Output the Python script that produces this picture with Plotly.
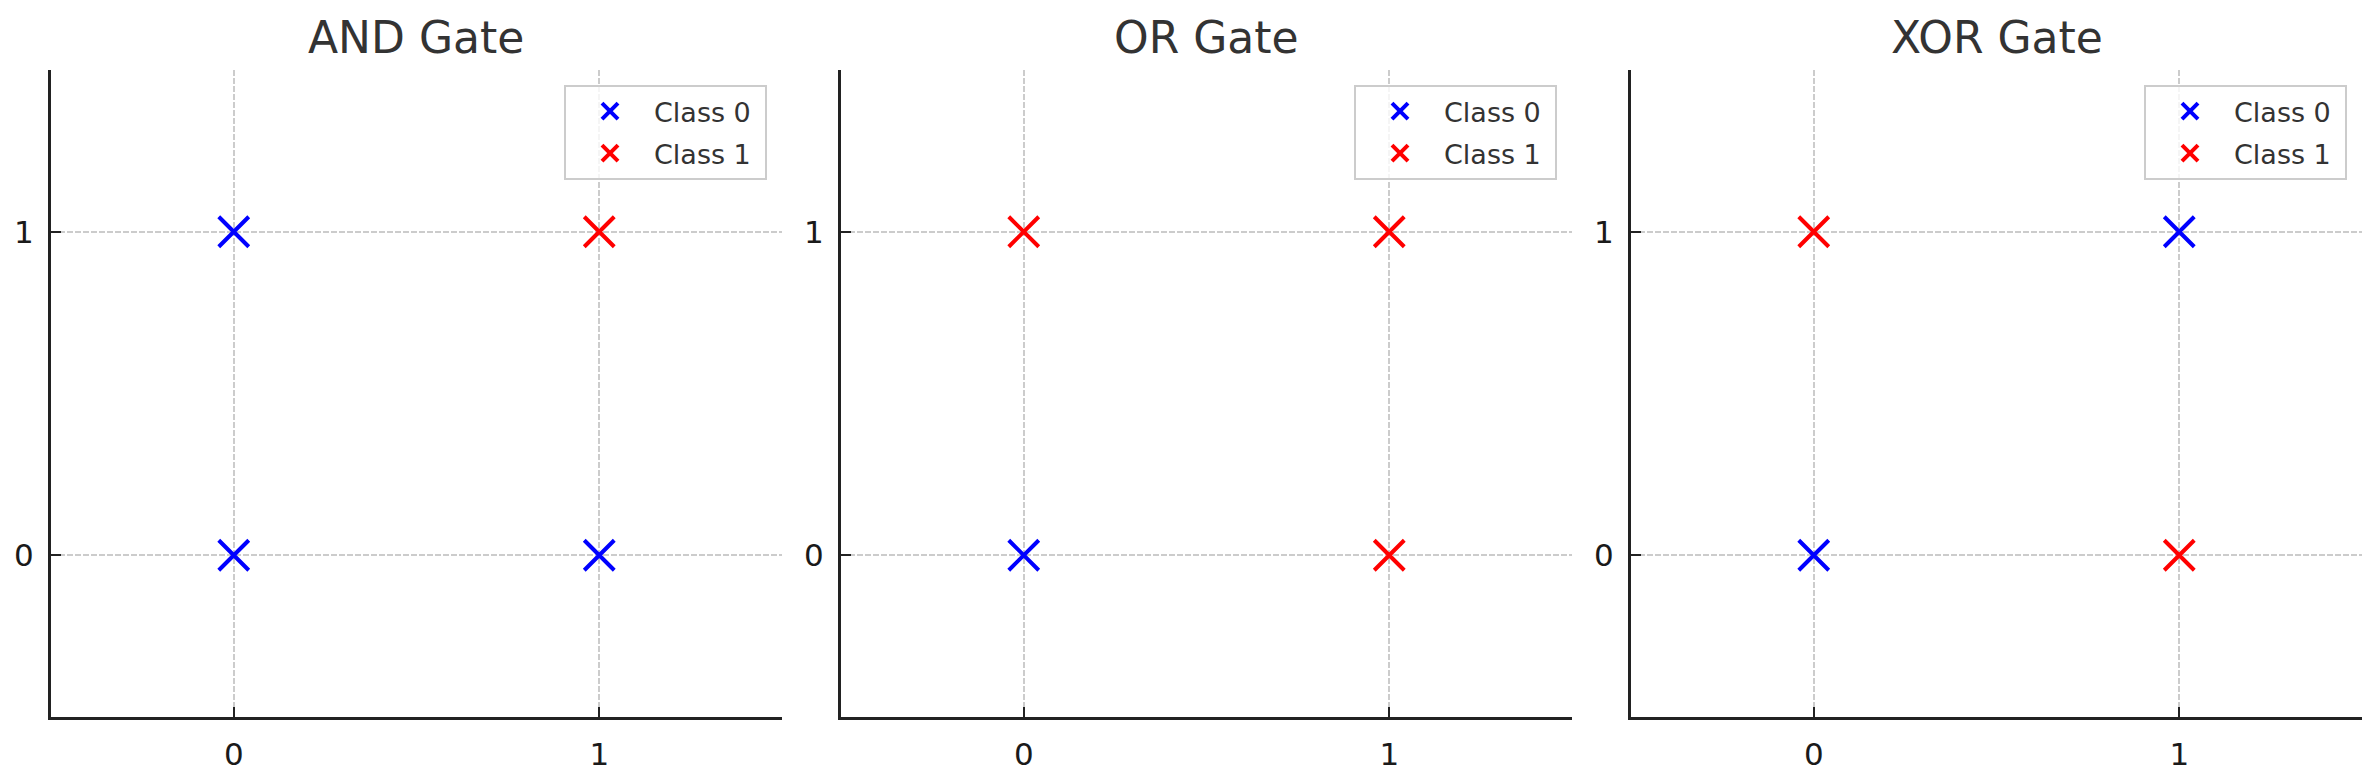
import plotly.graph_objects as go

# gate inputs (x1, x2) and the class each gate gives them
gate_names = ["AND Gate", "OR Gate", "XOR Gate"]
inputs_x1 = [0, 0, 1, 1]
inputs_x2 = [0, 1, 0, 1]
and_labels = [0, 0, 0, 1]
or_labels = [0, 1, 1, 1]
xor_labels = [0, 1, 1, 0]
gate_labels = [and_labels, or_labels, xor_labels]

class_names = ["Class 0", "Class 1"]
class_colors = ["#0000ff", "#ff0000"]
tick_vals = [0, 1]
tick_text = ["0", "1"]

W, H = 2379, 780
FONT = "DejaVu Sans"

panels_px = [(51, 782), (841, 1572), (1631, 2362)]
top_px, bottom_px = 70, 717

fig = go.Figure()

for i, name in enumerate(gate_names):
    n = "" if i == 0 else str(i + 1)
    labels = gate_labels[i]
    for c in range(2):
        xs = [x for x, lab in zip(inputs_x1, labels) if lab == c]
        ys = [y for y, lab in zip(inputs_x2, labels) if lab == c]
        fig.add_trace(go.Scatter(
            x=xs, y=ys,
            mode="markers",
            # trailing nbsp gives the legend a bit of right padding
            name=class_names[c] + "\u00a0",
            legend="legend" + n,
            legendgroup=f"g{i}c{c}",
            xaxis="x" + n, yaxis="y" + n,
            marker=dict(symbol="x-thin", size=30,
                        line=dict(color=class_colors[c], width=4),
                        color=class_colors[c]),
            hoverinfo="x+y+name",
        ))

    x0, x1 = panels_px[i]
    axis_common = dict(
        range=[-0.5, 1.5],
        tickvals=tick_vals, ticktext=tick_text,
        ticks="inside", ticklen=10, tickwidth=2, tickcolor="#222222",
        tickfont=dict(family=FONT, size=31, color="#1a1a1a"),
        ticklabelstandoff=8,
        showgrid=True, gridcolor="#cccccc", gridwidth=1.5,
        griddash="5.5px,2.5px",
        zeroline=False,
        showline=True, linecolor="#222222", linewidth=3,
        fixedrange=True,
    )
    fig.update_layout({
        "xaxis" + n: dict(axis_common, domain=[x0 / W, x1 / W],
                          anchor="y" + n),
        "yaxis" + n: dict(axis_common, domain=[1 - bottom_px / H, 1 - top_px / H],
                          anchor="x" + n),
        "legend" + n: dict(
            x=(x1 - 15) / W, xanchor="right",
            y=1 - 85 / H, yanchor="top",
            bgcolor="rgba(255,255,255,0.8)",
            bordercolor="#cccccc", borderwidth=2,
            font=dict(family=FONT, size=27, color="#333333"),
            tracegroupgap=4,
            itemwidth=78,
        ),
    })
    fig.add_annotation(
        text=name, xref="paper", yref="paper",
        x=(x0 + x1) / 2 / W, y=1 - 37 / H,
        xanchor="center", yanchor="middle", showarrow=False,
        font=dict(family=FONT, size=44, color="#333333"),
    )

fig.update_layout(
    width=W, height=H,
    margin=dict(l=0, r=0, t=0, b=0),
    paper_bgcolor="white", plot_bgcolor="white",
    font=dict(family=FONT),
    showlegend=True,
)

fig.write_html("out.html", config={"displayModeBar": False},
               post_script="document.body.style.margin='0';")
